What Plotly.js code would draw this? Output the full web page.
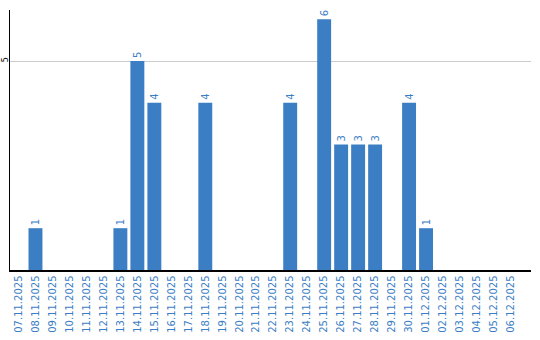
<!DOCTYPE html>
<html><head><meta charset="utf-8">
<script src="https://cdn.plot.ly/plotly-3.0.1.min.js"></script>
<style>html,body{margin:0;padding:0;background:#fff}#c{width:540px;height:340px}</style>
</head><body><div id="c"></div>
<script>
const dates = ["07.11.2025","08.11.2025","09.11.2025","10.11.2025","11.11.2025","12.11.2025","13.11.2025","14.11.2025","15.11.2025","16.11.2025","17.11.2025","18.11.2025","19.11.2025","20.11.2025","21.11.2025","22.11.2025","23.11.2025","24.11.2025","25.11.2025","26.11.2025","27.11.2025","28.11.2025","29.11.2025","30.11.2025","01.12.2025","02.12.2025","03.12.2025","04.12.2025","05.12.2025","06.12.2025"];
const counts = [0,1,0,0,0,0,1,5,4,0,0,4,0,0,0,0,4,0,6,3,3,3,0,4,1,0,0,0,0,0];
const labels = counts.map(v => v > 0 ? String(v) : "");
const blue = "#3b7ec4";
Plotly.newPlot("c", [{
  type: "bar", x: dates, y: counts,
  marker: {color: blue},
  text: labels, textposition: "outside", textangle: -90,
  textfont: {family: "DejaVu Sans", size: 10, color: blue},
  cliponaxis: false, hoverinfo: "none"
}], {
  width: 540, height: 340,
  margin: {l: 10, r: 9, t: 10, b: 70},
  paper_bgcolor: "#fff", plot_bgcolor: "#fff",
  bargap: 0.18, showlegend: false,
  font: {family: "DejaVu Sans"},
  xaxis: {type: "category", range: [-0.5, 30.18], tickangle: -90,
    tickfont: {family: "DejaVu Sans", size: 10, color: blue},
    showline: true, linecolor: "#000", linewidth: 1.5, showgrid: false, ticks: "", zeroline: false, fixedrange: true},
  yaxis: {range: [0, 6.22], tickvals: [5], ticktext: ["5"], tickangle: -90,
    ticklabelstandoff: -3,
    tickfont: {family: "DejaVu Sans", size: 8, color: "#000"},
    showline: true, linecolor: "#000", linewidth: 1.5, showgrid: true, gridcolor: "#cccccc", gridwidth: 1,
    ticks: "", zeroline: false, fixedrange: true}
}, {staticPlot: true, displayModeBar: false});
</script></body></html>
